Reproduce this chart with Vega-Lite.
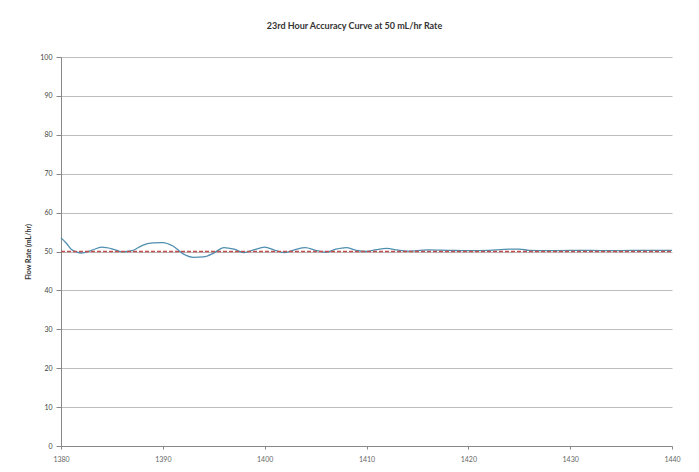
{
  "$schema": "https://vega.github.io/schema/vega-lite/v6.json",
  "width": 611,
  "height": 389,
  "autosize": {"type": "none"},
  "padding": {"left": 61, "top": 57, "right": 27, "bottom": 26},
  "background": "white",
  "title": {
    "text": "23rd Hour Accuracy Curve at 50 mL/hr Rate",
    "font": "Lato",
    "fontSize": 9,
    "fontWeight": "bold",
    "color": "#333333",
    "anchor": "middle",
    "dx": -12,
    "offset": 22
  },
  "config": {
    "view": {"stroke": null},
    "axis": {
      "labelFont": "Lato",
      "titleFont": "Lato",
      "labelFontSize": 7,
      "labelColor": "#444444",
      "titleColor": "#333333",
      "domainColor": "#888888",
      "tickColor": "#888888",
      "gridColor": "#bdbdbd"
    }
  },
  "datasets": {
    "flow": [
      {"t": 1380, "v": 53.5}, {"t": 1380.5, "v": 52.2}, {"t": 1381, "v": 50.6}, {"t": 1381.5, "v": 49.9},
      {"t": 1382, "v": 49.6}, {"t": 1383, "v": 50.3}, {"t": 1384, "v": 51.1}, {"t": 1385, "v": 50.7},
      {"t": 1386, "v": 49.9}, {"t": 1387, "v": 50.2}, {"t": 1388, "v": 51.6}, {"t": 1389, "v": 52.2},
      {"t": 1390, "v": 52.3}, {"t": 1391, "v": 51.4}, {"t": 1392, "v": 49.4}, {"t": 1393, "v": 48.5},
      {"t": 1394, "v": 48.6}, {"t": 1395, "v": 49.6}, {"t": 1396, "v": 51.0}, {"t": 1397, "v": 50.6},
      {"t": 1398, "v": 49.7}, {"t": 1399, "v": 50.5}, {"t": 1400, "v": 51.1}, {"t": 1401, "v": 50.3},
      {"t": 1402, "v": 49.7}, {"t": 1403, "v": 50.5}, {"t": 1404, "v": 51.0}, {"t": 1405, "v": 50.3},
      {"t": 1406, "v": 49.8}, {"t": 1407, "v": 50.6}, {"t": 1408, "v": 51.0}, {"t": 1409, "v": 50.3},
      {"t": 1410, "v": 50.0}, {"t": 1411, "v": 50.5}, {"t": 1412, "v": 50.8}, {"t": 1413, "v": 50.4},
      {"t": 1414, "v": 50.1}, {"t": 1416, "v": 50.4}, {"t": 1418, "v": 50.3}, {"t": 1420, "v": 50.2},
      {"t": 1422, "v": 50.3}, {"t": 1424, "v": 50.6}, {"t": 1425, "v": 50.6}, {"t": 1426, "v": 50.3},
      {"t": 1428, "v": 50.2}, {"t": 1430, "v": 50.3}, {"t": 1432, "v": 50.3}, {"t": 1434, "v": 50.2},
      {"t": 1436, "v": 50.3}, {"t": 1438, "v": 50.3}, {"t": 1440, "v": 50.3}
    ],
    "target": [
      {"t": 1380, "v": 50}, {"t": 1440, "v": 50}
    ]
  },
  "encoding": {
    "x": {
      "field": "t", "type": "quantitative",
      "scale": {"domain": [1380, 1440], "nice": false, "zero": false},
      "axis": {"values": [1380, 1390, 1400, 1410, 1420, 1430, 1440], "grid": false, "title": null, "tickSize": 3, "labelPadding": 6, "format": "d", "labelColor": "#666666", "labelFlush": false}
    },
    "y": {
      "field": "v", "type": "quantitative",
      "scale": {"domain": [0, 100], "nice": false},
      "axis": {"values": [0, 10, 20, 30, 40, 50, 60, 70, 80, 90, 100], "labelOverlap": false, "grid": true, "title": "Flow Rate (mL/hr)", "titleFontSize": 7, "titleFontWeight": "bold", "titlePadding": 8, "tickSize": 5, "labelPadding": 4}
    }
  },
  "layer": [
    {
      "data": {"name": "flow"},
      "mark": {"type": "line", "color": "#4F8FB0", "strokeWidth": 1.3, "interpolate": "monotone"}
    },
    {
      "data": {"name": "target"},
      "mark": {"type": "line", "color": "#C0504D", "strokeWidth": 1.5, "strokeDash": [4, 2]}
    }
  ]
}
